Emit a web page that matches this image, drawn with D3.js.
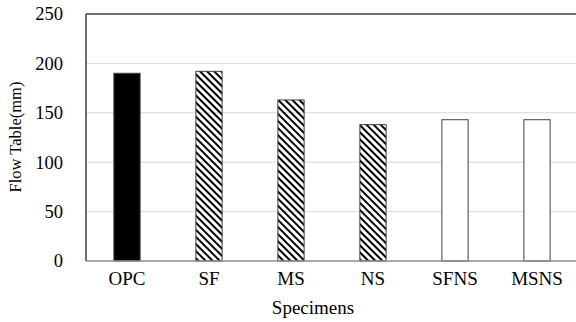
<!DOCTYPE html>
<html>
<head>
<meta charset="utf-8">
<script src="https://cdn.jsdelivr.net/npm/d3@7"></script>
<style>
  body { margin: 0; background: #fff; }
  #chart text { font-family: 'Liberation Serif'; }
</style>
</head>
<body>
<svg id="chart" width="576" height="322"></svg>
<script>
const specimens = ['OPC', 'SF', 'MS', 'NS', 'SFNS', 'MSNS'];
const flowValues = [190, 192, 163, 138, 143, 143];
const fillTypes = ['solid', 'hatch', 'hatch', 'hatch', 'empty', 'empty'];
const yTicks = [0, 50, 100, 150, 200, 250];

const width = 576, height = 322;
const margin = { top: 14, right: -2, bottom: 61, left: 86 };

const svg = d3.select('#chart');

// diagonal hatch for the mineral admixture bars
svg.append('defs')
  .append('pattern')
  .attr('id', 'hatch')
  .attr('patternUnits', 'userSpaceOnUse')
  .attr('width', 5)
  .attr('height', 5)
  .attr('patternTransform', 'rotate(-45)')
  .append('rect')
  .attr('width', 2)
  .attr('height', 5)
  .attr('fill', '#000');

const x = d3.scaleBand()
  .domain(specimens)
  .range([margin.left, width - margin.right])
  .paddingInner(0.68)
  .paddingOuter(0.34);

const y = d3.scaleLinear()
  .domain([0, 250])
  .range([height - margin.bottom, margin.top]);

// gridlines
svg.append('g')
  .selectAll('line')
  .data(yTicks.filter(d => d > 0 && d < 250))
  .enter()
  .append('line')
  .attr('x1', margin.left)
  .attr('x2', width)
  .attr('y1', d => y(d))
  .attr('y2', d => y(d))
  .attr('stroke', '#d9d9d9')
  .attr('stroke-width', 1);

// bars
svg.append('g')
  .selectAll('rect')
  .data(specimens)
  .enter()
  .append('rect')
  .attr('x', d => x(d))
  .attr('y', (d, i) => y(flowValues[i]))
  .attr('width', x.bandwidth())
  .attr('height', (d, i) => y(0) - y(flowValues[i]))
  .attr('fill', (d, i) => fillTypes[i] === 'solid' ? '#000' : fillTypes[i] === 'hatch' ? 'url(#hatch)' : '#fff')
  .attr('stroke', '#404040')
  .attr('stroke-width', 1);

// frame: top and left
svg.append('line')
  .attr('x1', margin.left).attr('x2', width)
  .attr('y1', y(250)).attr('y2', y(250))
  .attr('stroke', '#404040').attr('stroke-width', 1.5);
svg.append('line')
  .attr('x1', margin.left).attr('x2', margin.left)
  .attr('y1', y(250)).attr('y2', y(0))
  .attr('stroke', '#404040').attr('stroke-width', 1.5);

// y axis labels
const yAxis = d3.axisLeft(y).tickValues(yTicks).tickSize(0).tickPadding(23);
svg.append('g')
  .attr('transform', `translate(${margin.left},0)`)
  .call(yAxis)
  .attr('font-size', 18.5)
  .call(g => g.select('.domain').remove())
  .selectAll('text')
  .attr('fill', '#000');

// x axis
const xAxis = d3.axisBottom(x).tickSize(0).tickPadding(11);
svg.append('g')
  .attr('transform', `translate(0,${y(0)})`)
  .call(xAxis)
  .attr('font-size', 19)
  .call(g => g.select('.domain')
    .attr('d', `M${margin.left},0H${width}`)
    .attr('stroke', '#8c8c8c').attr('stroke-width', 1.5))
  .selectAll('text')
  .attr('fill', '#000');

// axis titles
svg.append('text')
  .attr('x', 313)
  .attr('y', 314)
  .attr('text-anchor', 'middle')
  .attr('font-size', 19)
  .text('Specimens');

svg.append('text')
  .attr('transform', 'translate(21,137) rotate(-90)')
  .attr('text-anchor', 'middle')
  .attr('font-size', 16.5)
  .text('Flow Table(mm)');
</script>
</body>
</html>
